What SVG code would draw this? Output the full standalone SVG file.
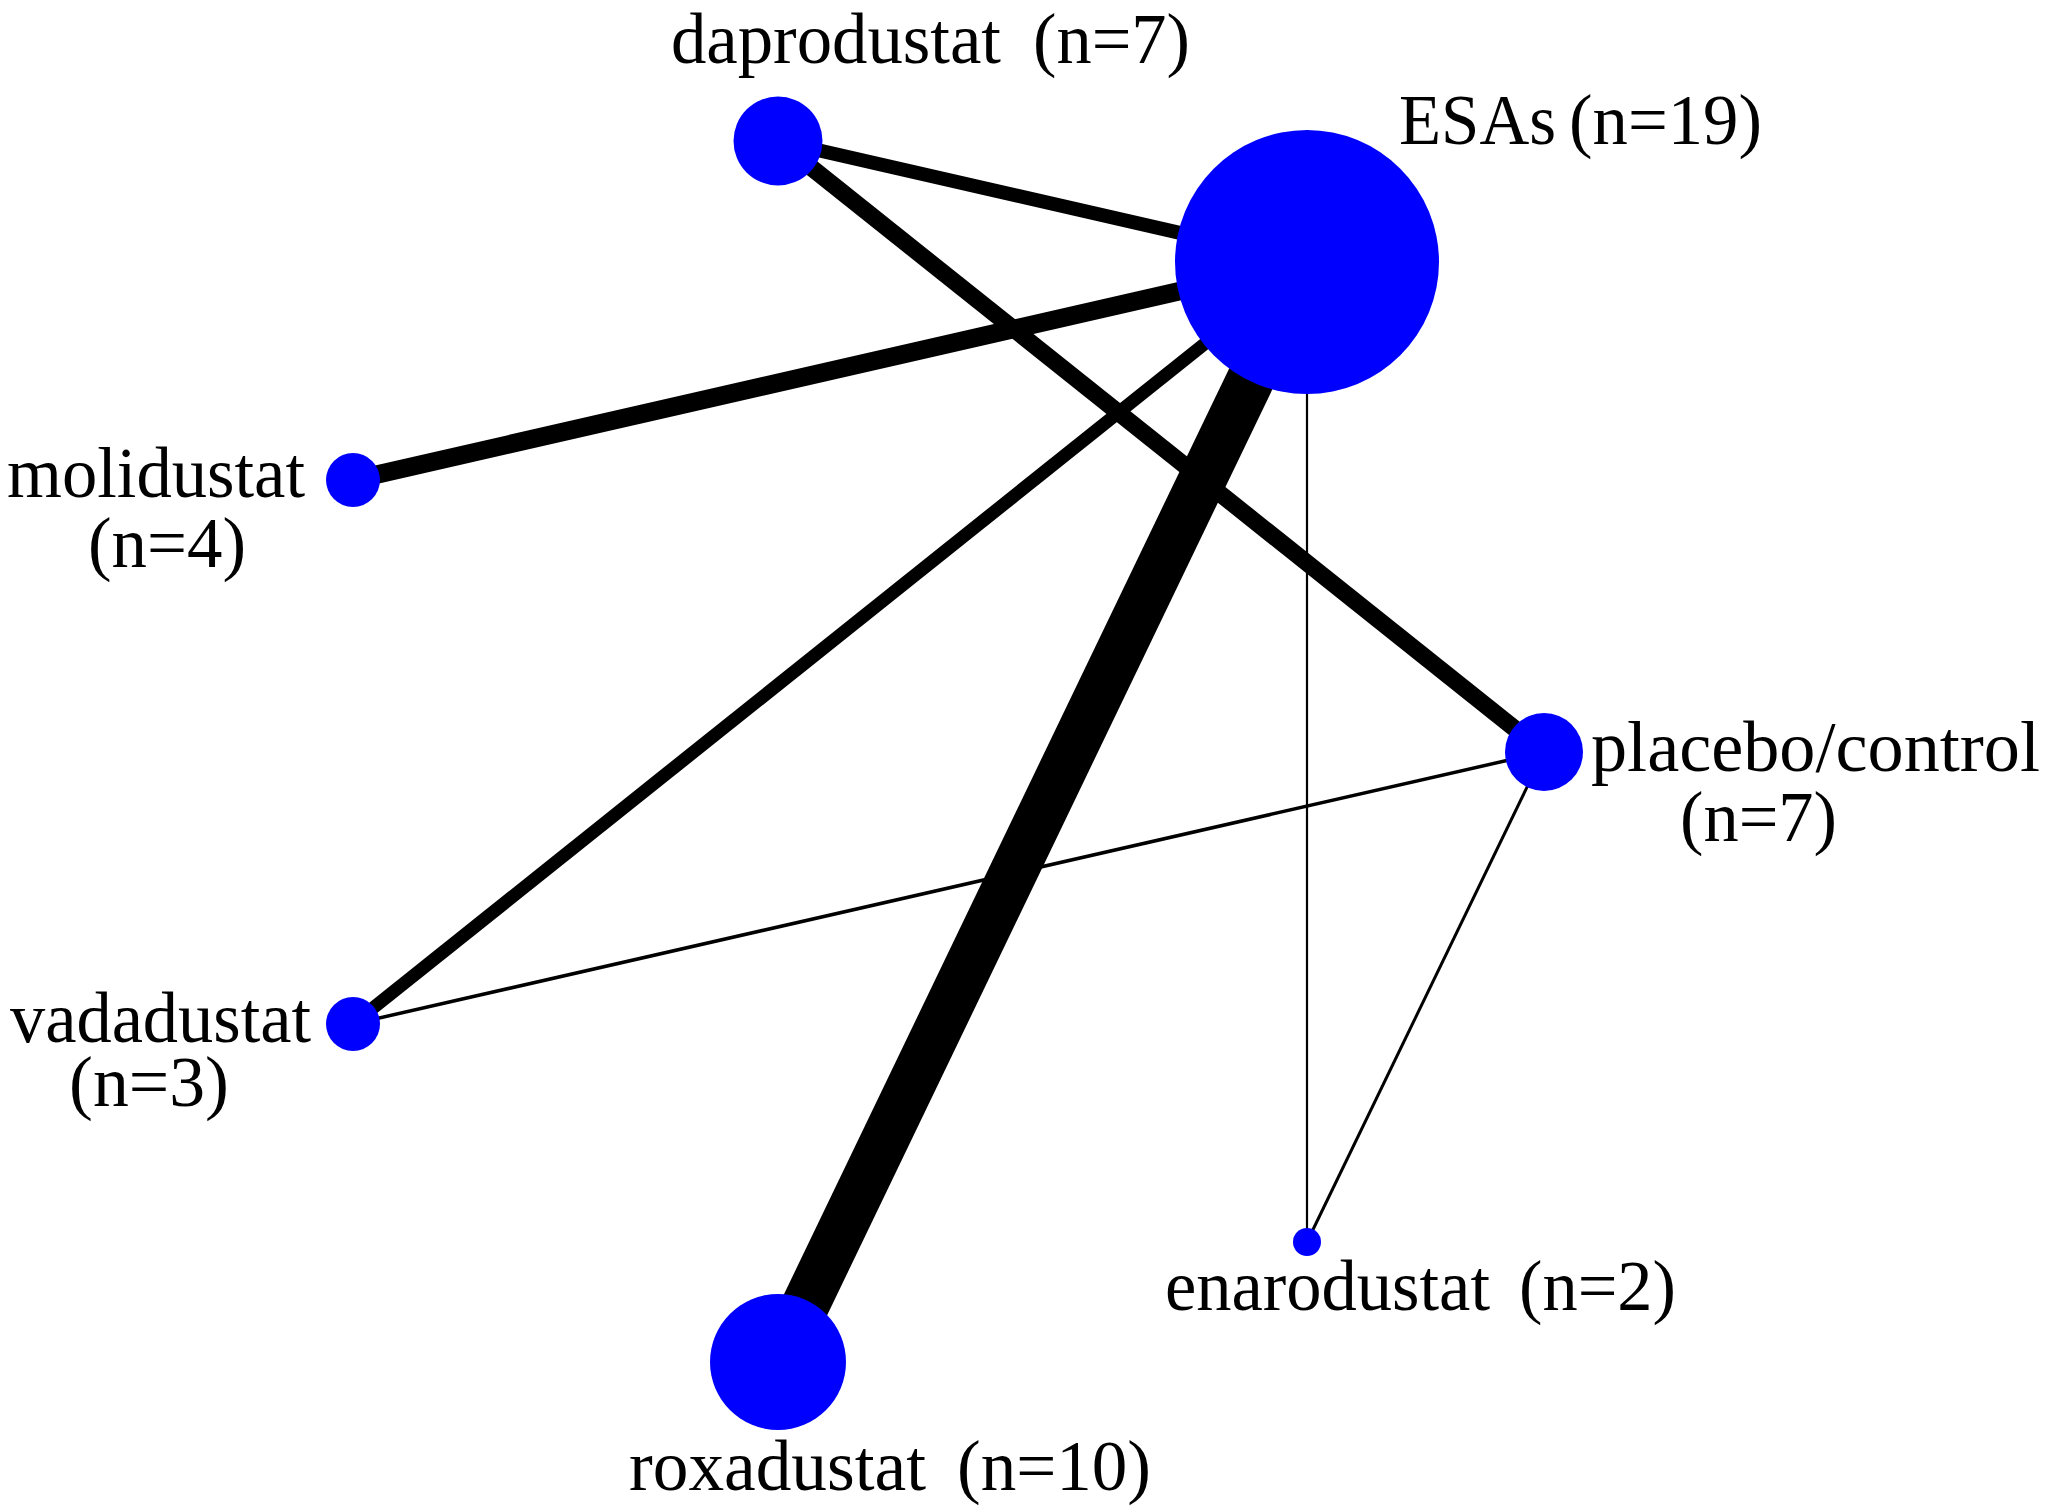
<svg xmlns="http://www.w3.org/2000/svg" width="2050" height="1512" viewBox="0 0 2050 1512">
<style>
.e{stroke:#000;stroke-linecap:butt;fill:none}
.n{fill:#0000ff}
text{font-family:"Liberation Serif","Times New Roman",serif;font-size:72px;fill:#000}
</style>
<rect width="2050" height="1512" fill="#fff"/>
<g id="connectors">
<line class="e" x1="778" y1="141" x2="1307" y2="262" stroke-width="14"/>
<line class="e" x1="778" y1="141" x2="1544" y2="752" stroke-width="17"/>
<line class="e" x1="353" y1="480" x2="1307" y2="262" stroke-width="18.5"/>
<line class="e" x1="353" y1="1024" x2="1307" y2="262" stroke-width="13"/>
<line class="e" x1="778" y1="1362" x2="1307" y2="262" stroke-width="48"/>
<line class="e" x1="353" y1="1024" x2="1544" y2="752" stroke-width="3.5"/>
<line class="e" x1="1307" y1="262" x2="1307" y2="1242" stroke-width="2.2"/>
<line class="e" x1="1544" y1="752" x2="1307" y2="1242" stroke-width="3"/>
</g>
<g id="daprodustat">
<circle class="n" cx="778" cy="141" r="44.5"/>
<text x="671" y="63" textLength="330" lengthAdjust="spacingAndGlyphs">daprodustat</text>
<text x="1033" y="63" textLength="157" lengthAdjust="spacingAndGlyphs">(n=7)</text>
</g>
<g id="ESAs">
<circle class="n" cx="1307" cy="262" r="132"/>
<text x="1399" y="144" textLength="157" lengthAdjust="spacingAndGlyphs">ESAs</text>
<text x="1569" y="144" textLength="193" lengthAdjust="spacingAndGlyphs">(n=19)</text>
</g>
<g id="molidustat">
<circle class="n" cx="353" cy="480" r="27"/>
<text x="7" y="497" textLength="298" lengthAdjust="spacingAndGlyphs">molidustat</text>
<text x="88" y="567" textLength="158" lengthAdjust="spacingAndGlyphs">(n=4)</text>
</g>
<g id="vadadustat">
<circle class="n" cx="353" cy="1024" r="27"/>
<text x="10" y="1042" textLength="301" lengthAdjust="spacingAndGlyphs">vadadustat</text>
<text x="69" y="1106" textLength="160" lengthAdjust="spacingAndGlyphs">(n=3)</text>
</g>
<g id="placebo">
<circle class="n" cx="1544" cy="752" r="39"/>
<text x="1591" y="771" textLength="449" lengthAdjust="spacingAndGlyphs">placebo/control</text>
<text x="1680" y="841" textLength="157" lengthAdjust="spacingAndGlyphs">(n=7)</text>
</g>
<g id="enarodustat">
<circle class="n" cx="1307" cy="1242" r="14"/>
<text x="1165" y="1310" textLength="325" lengthAdjust="spacingAndGlyphs">enarodustat</text>
<text x="1519" y="1310" textLength="157" lengthAdjust="spacingAndGlyphs">(n=2)</text>
</g>
<g id="roxadustat">
<circle class="n" cx="778" cy="1362" r="68"/>
<text x="629" y="1490" textLength="297" lengthAdjust="spacingAndGlyphs">roxadustat</text>
<text x="957" y="1490" textLength="194" lengthAdjust="spacingAndGlyphs">(n=10)</text>
</g>
</svg>
